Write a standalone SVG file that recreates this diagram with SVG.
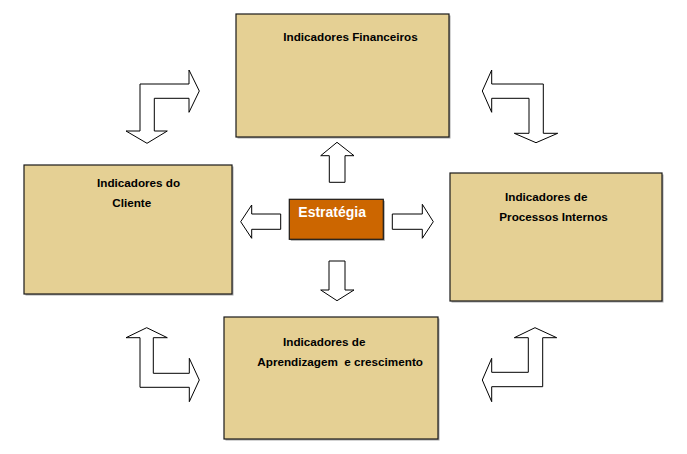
<svg xmlns="http://www.w3.org/2000/svg" width="687" height="454" viewBox="0 0 687 454">
<style>
.box{fill:#E5D094;stroke:#1a1a1a;stroke-width:1.2}
.shadow{fill:#a8a8a8}
.lbl{font-family:"Liberation Sans",Arial,sans-serif;font-weight:bold;font-size:11.7px;fill:#000}
.arr{fill:#fff;stroke:#000;stroke-width:1}
.strat{fill:#CC6600;stroke:#1a1a1a;stroke-width:1.2}
.stxt{font-family:"Liberation Sans",Arial,sans-serif;font-weight:bold;font-size:14px;fill:#fff}
</style>
<rect width="687" height="454" fill="#fff"/>
<g id="financeiros">
<rect class="shadow" x="237.5" y="15.5" width="213" height="123"/>
<rect class="box" x="236" y="14" width="213" height="123"/>
<text class="lbl" x="283.3" y="41.3">Indicadores Financeiros</text>
</g>
<g id="cliente">
<rect class="shadow" x="25.5" y="166.5" width="208" height="129"/>
<rect class="box" x="24" y="165" width="208" height="129"/>
<text class="lbl" x="97" y="186.7">Indicadores do</text>
<text class="lbl" x="112.3" y="206.7">Cliente</text>
</g>
<g id="processos">
<rect class="shadow" x="451.5" y="174.5" width="212" height="128"/>
<rect class="box" x="450" y="173" width="212" height="128"/>
<text class="lbl" x="505" y="200.7">Indicadores de</text>
<text class="lbl" x="499.3" y="220.7">Processos Internos</text>
</g>
<g id="aprendizagem">
<rect class="shadow" x="225.5" y="318.5" width="214" height="122"/>
<rect class="box" x="224" y="317" width="214" height="122"/>
<text class="lbl" x="283" y="346.3">Indicadores de</text>
<text class="lbl" x="257.3" y="366.3" xml:space="preserve">Aprendizagem  e crescimento</text>
</g>
<g id="estrategia">
<rect class="shadow" x="290.8" y="200.8" width="94" height="40"/>
<rect class="strat" x="289.3" y="199.3" width="94" height="40"/>
<text class="stxt" x="298.3" y="216.7">Estratégia</text>
</g>
<g id="connectors">
<path class="arr" d="M329.3,182.3 L329.3,155.7 L320.7,155.7 L337,142.3 L354,155.7 L345,155.7 L345,182.3 Z"/>
<path class="arr" d="M329,261 L345,261 L345,290 L354,290 L337,300.7 L320.7,290 L329,290 Z"/>
<path class="arr" d="M280.7,214 L280.7,229.3 L251.7,229.3 L251.7,238.3 L240.7,221.7 L251.7,205 L251.7,214 Z"/>
<path class="arr" d="M392.3,214 L392.3,229.3 L422.3,229.3 L422.3,238.3 L433.3,221.7 L422.3,204.3 L422.3,214 Z"/>
<path class="arr" d="M140,131 L140,84 L189,84 L189,70 L199.3,91 L189,112.3 L189,98.3 L154.3,98.3 L154.3,131 L167.3,131 L147,143.3 L126,131 Z"/>
<path class="arr" d="M491.7,84 L543.3,84 L543.3,133.3 L557.7,133.3 L536,142.7 L514.3,133.3 L529,133.3 L529,98.3 L491.7,98.3 L491.7,112.3 L482.3,91 L491.7,70 Z"/>
<path class="arr" d="M140,337.7 L126,337.7 L146.7,327.7 L167.3,337.7 L153.3,337.7 L153.3,373.3 L189.3,373.3 L189.3,358.3 L199.3,380 L189.3,401.7 L189.3,387.3 L140,387.3 Z"/>
<path class="arr" d="M542.7,337.7 L556.7,337.7 L535,327.7 L514.3,337.7 L528.3,337.7 L528.3,372.3 L491.7,372.3 L491.7,358.3 L482.3,380 L491.7,401.7 L491.7,386.7 L542.7,386.7 Z"/>
</g>
</svg>
